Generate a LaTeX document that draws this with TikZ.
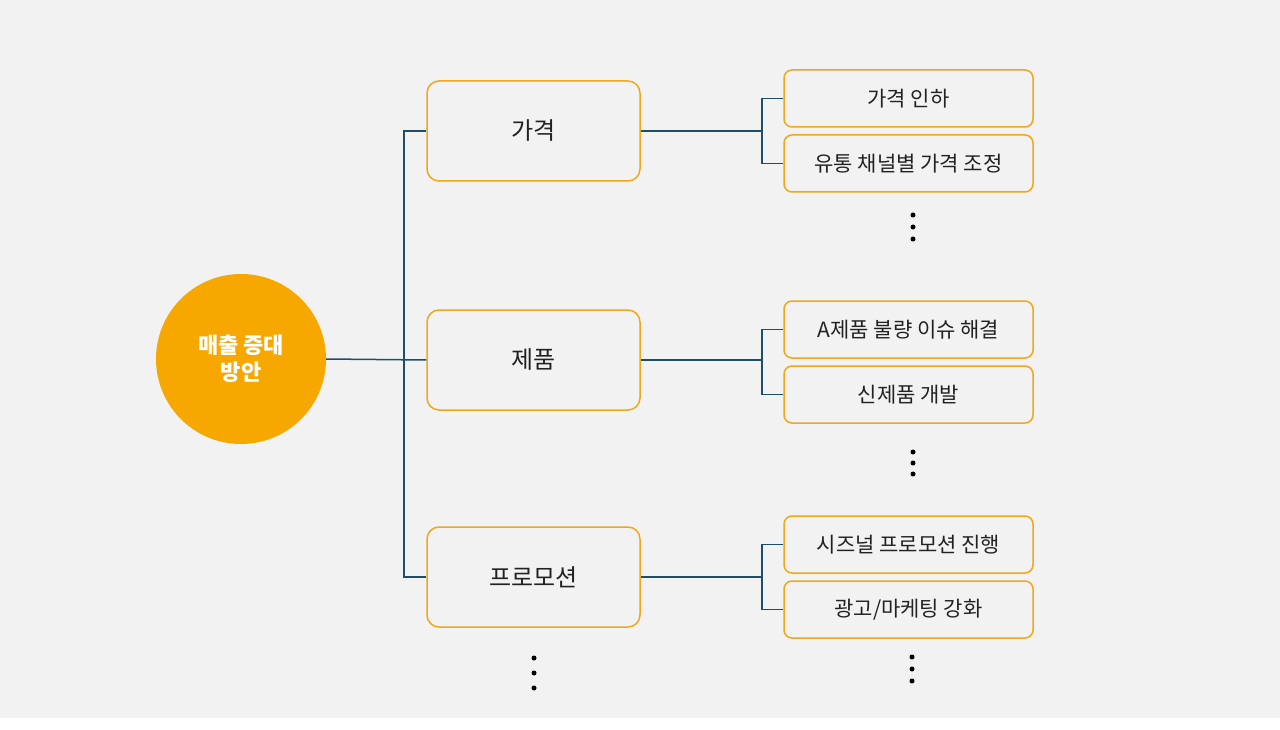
\documentclass[tikz,border=0pt]{standalone}
\usepackage{fontspec}
\setmainfont{Noto Sans CJK KR}
\begin{document}
\begin{tikzpicture}[x=1pt,y=-1pt,
  mid/.style={draw=orangeb,line width=1.5pt,rounded corners=12pt,minimum width=213pt,minimum height=100pt,fill=bgc,font=\fontsize{24}{28}\selectfont,text=txt},
  leaf/.style={draw=orangeb,line width=1.5pt,rounded corners=8pt,minimum width=249pt,minimum height=57pt,fill=bgc,font=\fontsize{21}{25}\selectfont,text=txt},
  con/.style={draw=linec,line width=1.5pt},
  dot/.style={circle,fill=black,inner sep=0pt,minimum size=5pt}]
\definecolor{bgc}{HTML}{F2F2F2}
\definecolor{orangeb}{HTML}{F0A818}
\definecolor{orangef}{HTML}{F7A800}
\definecolor{linec}{HTML}{1F4E68}
\definecolor{txt}{HTML}{222222}
\useasboundingbox (0,0) rectangle (1280,730);
\fill[bgc] (0,0) rectangle (1280,718);
\node[circle,fill=orangef,minimum size=170pt,inner sep=0pt,text=white,font=\bfseries\fontsize{22}{27}\selectfont,align=center] (root) at (241,359) {매출 증대\\방안};
\node[mid] (m1) at (533.5,131) {가격};
\node[mid] (m2) at (533.5,360) {제품};
\node[mid] (m3) at (533.5,577) {프로모션};
\node[leaf] (l1) at (908.5,98.5) {가격 인하};
\node[leaf] (l2) at (908.5,163.5) {유통 채널별 가격 조정};
\node[leaf] (l3) at (908.5,329.5) {A제품 불량 이슈 해결};
\node[leaf] (l4) at (908.5,394.5) {신제품 개발};
\node[leaf] (l5) at (908.5,544.5) {시즈널 프로모션 진행};
\node[leaf] (l6) at (908.5,609.5) {광고/마케팅 강화};
\coordinate (t) at (404,359);
\coordinate (b1) at (762,131);
\coordinate (b2) at (762,360);
\coordinate (b3) at (762,577);
\draw[con] (root.east) -- (m2.west);
\draw[con] (m1.west) -| (t) |- (m3.west);
\draw[con] (m1.east) -- (b1);
\draw[con] (m2.east) -- (b2);
\draw[con] (m3.east) -- (b3);
\draw[con] (l1.west) -| (b1) |- (l2.west);
\draw[con] (l3.west) -| (b2) |- (l4.west);
\draw[con] (l5.west) -| (b3) |- (l6.west);
\foreach \x/\y [count=\i] in {913/215,913/227,913/239,913/452,913/463,913/474,912/657,912/669,912/681,534/658,534/673,534/688}
  \node[dot] (d\i) at (\x,\y) {};
\end{tikzpicture}
\end{document}
